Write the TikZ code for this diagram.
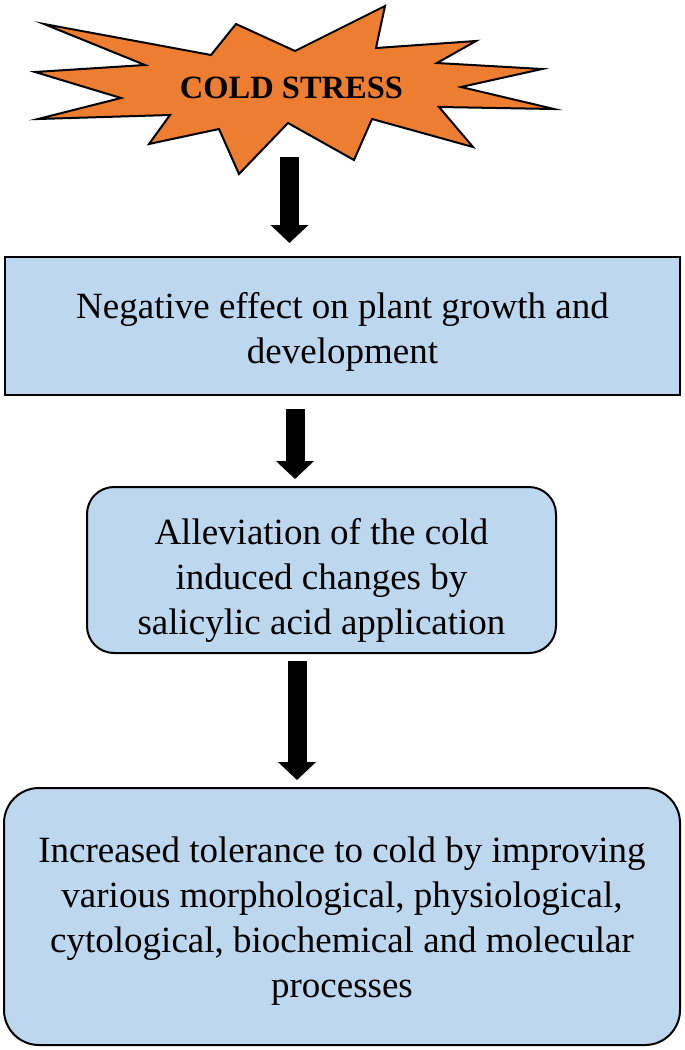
\documentclass[tikz,border=0pt]{standalone}
\usepackage{fontspec}
\setmainfont{Liberation Serif}
\usetikzlibrary{arrows.meta,calc}
\definecolor{starorange}{RGB}{237,125,49}
\definecolor{boxblue}{RGB}{189,215,238}
\begin{document}
\begin{tikzpicture}[x=1pt,y=-1pt,
  flowbox/.style={draw=black,line width=2pt,fill=boxblue,inner sep=0pt},
  boxtext/.style={align=center,font=\fontsize{37}{45}\selectfont,inner sep=0pt},
  bigarrow/.style={line width=19pt,-{Triangle[width=37pt,length=18pt]}},
  startext/.style={font=\fontsize{32.5}{38}\selectfont\bfseries,inner sep=0pt}]
\useasboundingbox (0,0) rectangle (685,1050);
% star
\draw[fill=starorange,line width=2pt,line join=miter]
  (44,24) -- (211,55) -- (236,24) -- (295,51) -- (385,6) -- (376,48) --
  (476,41) -- (437,63) -- (542,69) -- (461,87) -- (554,109) -- (439,107) --
  (473,147) -- (372,119) -- (354,160) -- (288,123) -- (239,174) -- (219,129) --
  (149,144) -- (170,115) -- (38,119) -- (121,98) -- (35,72) -- (145,65) -- cycle;
\node[startext] (star) at (291.5,88) {COLD STRESS};
% boxes
\node[flowbox,minimum width=675pt,minimum height=138pt,
  label={[boxtext,name=box1t,yshift=-6pt]center:{Negative effect on plant growth and\\development}}]
  (box1) at (342.5,326) {};
\node[flowbox,rounded corners=27pt,minimum width=469pt,minimum height=166pt,
  label={[boxtext,name=box2t,yshift=-10pt]center:{Alleviation of the cold\\induced changes by\\salicylic acid application}}]
  (box2) at (321.5,570) {};
\node[flowbox,rounded corners=35pt,minimum width=676pt,minimum height=257pt,
  label={[boxtext,name=box3t,yshift=-5pt]center:{Increased tolerance to cold by improving\\various morphological, physiological,\\cytological, biochemical and molecular\\processes}}]
  (box3) at (342,916.5) {};
% arrows
\coordinate (a1top) at (289.5,157);
\coordinate (a2x) at (295,0);
\coordinate (a3x) at (297,0);
\draw[bigarrow,shorten >=13pt] (a1top) -- (box1.north -| a1top);
\draw[bigarrow,shorten <=13pt,shorten >=7pt] (box1.south -| a2x) -- (box2.north -| a2x);
\draw[bigarrow,shorten <=7pt,shorten >=7pt] (box2.south -| a3x) -- (box3.north -| a3x);
\end{tikzpicture}
\end{document}
